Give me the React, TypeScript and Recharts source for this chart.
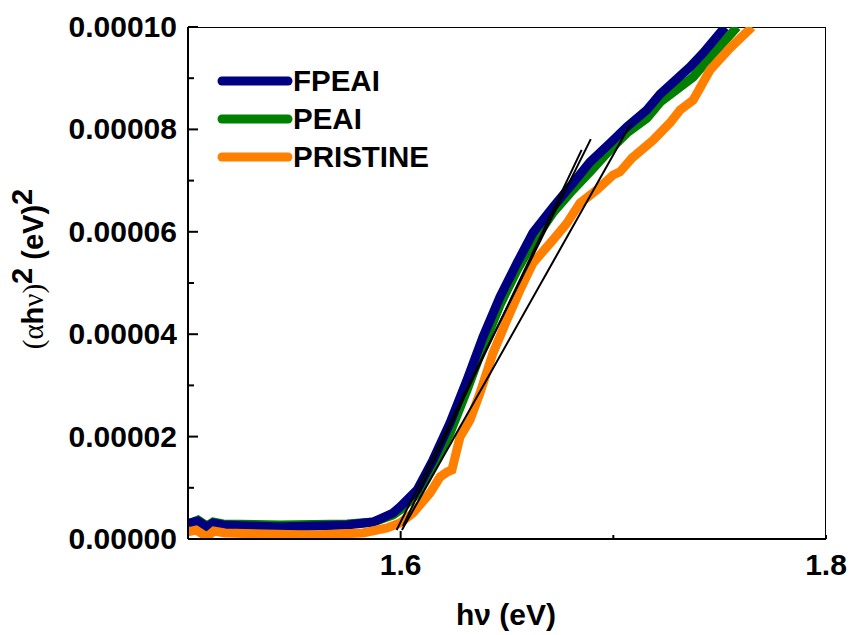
import React from 'react';
import { LineChart, Line, XAxis, YAxis, ReferenceArea } from 'recharts';

// ---- data ----
const fpeaiX = [1.5, 1.5009, 1.5047, 1.5089, 1.5118, 1.5165, 1.5433, 1.5748, 1.587, 1.5964, 1.5997, 1.6077, 1.6152, 1.6232, 1.6312, 1.6387, 1.6467, 1.6547, 1.6622, 1.6716, 1.681, 1.689, 1.6984, 1.7064, 1.7158, 1.722, 1.7361, 1.7422, 1.7525];
const fpeaiY = [2.73e-6, 3.13e-6, 3.52e-6, 2.34e-6, 3.13e-6, 2.73e-6, 2.34e-6, 2.73e-6, 3.32e-6, 5.08e-6, 6.25e-6, 9.57e-6, 1.543e-5, 2.266e-5, 3.105e-5, 3.945e-5, 4.727e-5, 5.39e-5, 5.98e-5, 6.48e-5, 6.95e-5, 7.36e-5, 7.73e-5, 8.05e-5, 8.38e-5, 8.69e-5, 9.22e-5, 9.49e-5, 1.0e-4];

const peaiX = [1.5, 1.5047, 1.5089, 1.5118, 1.5165, 1.5433, 1.5748, 1.587, 1.5964, 1.5997, 1.6077, 1.6152, 1.6232, 1.6312, 1.6387, 1.6467, 1.6547, 1.6622, 1.6716, 1.681, 1.689, 1.6984, 1.7064, 1.7158, 1.722, 1.7375, 1.7455, 1.7582];
const peaiY = [2.93e-6, 3.71e-6, 2.54e-6, 3.32e-6, 2.93e-6, 2.73e-6, 2.93e-6, 3.32e-6, 4.69e-6, 5.66e-6, 8.79e-6, 1.426e-5, 2.07e-5, 2.91e-5, 3.75e-5, 4.57e-5, 5.25e-5, 5.8e-5, 6.37e-5, 6.82e-5, 7.17e-5, 7.6e-5, 7.93e-5, 8.22e-5, 8.53e-5, 9.02e-5, 9.41e-5, 1.0e-4];

const pristineX = [1.5, 1.5038, 1.5089, 1.5122, 1.5174, 1.5588, 1.5823, 1.5936, 1.5997, 1.6058, 1.6138, 1.6185, 1.6218, 1.6241, 1.6279, 1.6326, 1.6373, 1.6434, 1.65, 1.6561, 1.6622, 1.6716, 1.6782, 1.6843, 1.6923, 1.6999, 1.7031, 1.7088, 1.7187, 1.7267, 1.7314, 1.7375, 1.7455, 1.7549, 1.7652];
const pristineY = [1.37e-6, 1.76e-6, 3.9e-7, 1.56e-6, 1.17e-6, 7.8e-7, 1.17e-6, 2.15e-6, 3.13e-6, 5.08e-6, 8.98e-6, 1.211e-5, 1.309e-5, 1.348e-5, 1.992e-5, 2.324e-5, 2.85e-5, 3.63e-5, 4.28e-5, 4.86e-5, 5.39e-5, 5.84e-5, 6.17e-5, 6.56e-5, 6.82e-5, 7.11e-5, 7.17e-5, 7.44e-5, 7.79e-5, 8.13e-5, 8.38e-5, 8.57e-5, 9.16e-5, 9.59e-5, 1.0e-4];

// linear fits (tangent lines)
const fitAX = [1.5981, 1.6894];
const fitAY = [1.76e-6, 7.81e-5];
const fitBX = [1.6011, 1.6851];
const fitBY = [2.54e-6, 7.6e-5];
const fitCX = [1.6006, 1.7082];
const fitCY = [1.76e-6, 8.11e-5];

const seriesNames = ['FPEAI', 'PEAI', 'PRISTINE'];
const seriesColors = ['#000080', '#008000', '#FF8000'];

const xTicks = [1.5, 1.6, 1.7, 1.8];
const xLabeled = [1.6, 1.8];
const yTicks = [0, 0.00001, 0.00002, 0.00003, 0.00004, 0.00005, 0.00006, 0.00007, 0.00008, 0.00009, 0.0001];
const yLabeled = [0, 0.00002, 0.00004, 0.00006, 0.00008, 0.0001];

const zip = (xs: number[], ys: number[]) => xs.map((x, i) => ({ x, y: ys[i] }));

const fpeai = zip(fpeaiX, fpeaiY);
const peai = zip(peaiX, peaiY);
const pristine = zip(pristineX, pristineY);
const fitA = zip(fitAX, fitAY);
const fitB = zip(fitBX, fitBY);
const fitC = zip(fitCX, fitCY);

const FONT = '"Liberation Sans", Arial, sans-serif';

const isIn = (v: number, arr: number[]) => arr.some((a) => Math.abs(a - v) < 1e-9);

const YTick = (props: any) => {
  const { x, y, payload } = props;
  const v = payload.value as number;
  const major = isIn(v, yLabeled);
  const axisX = x + 11;
  return (
    <g>
      <line x1={axisX} x2={axisX + (major ? 10 : 6)} y1={y} y2={y} stroke="#000" strokeWidth={2} />
      {major && (
        <text x={x} y={y + 10} textAnchor="end" fontFamily={FONT} fontWeight="bold" fontSize={30} fill="#000">
          {v.toFixed(5)}
        </text>
      )}
    </g>
  );
};

const XTick = (props: any) => {
  const { x, y, payload } = props;
  const v = payload.value as number;
  const major = Math.abs(v - 1.6) < 1e-9;
  const axisY = y - 16;
  return (
    <g>
      <line x1={x} x2={x} y1={axisY} y2={axisY - (major ? 8 : 4)} stroke="#000" strokeWidth={2} />
      {isIn(v, xLabeled) && (
        <text x={x} y={y + 20} textAnchor="middle" fontFamily={FONT} fontWeight="bold" fontSize={30} fill="#000">
          {v.toFixed(1)}
        </text>
      )}
    </g>
  );
};

const LegendBox = () => (
  <g>
    {seriesNames.map((n, i) => (
      <g key={n}>
        <line x1={222} x2={288} y1={81 + i * 38} y2={81 + i * 38} stroke={seriesColors[i]} strokeWidth={9} strokeLinecap="round" />
        <text x={293} y={91 + i * 38} fontFamily={FONT} fontWeight="bold" fontSize={29.5} fill="#000">
          {n}
        </text>
      </g>
    ))}
  </g>
);

const YLabel = () => (
  <text transform="rotate(-90, 43, 269)" x={43} y={269} textAnchor="middle" fontSize={29} fill="#000">
    <tspan fontFamily='"Liberation Serif", serif'>(α</tspan>
    <tspan fontFamily={FONT} fontWeight="bold">h</tspan>
    <tspan fontFamily='"Liberation Serif", serif'>ν)</tspan>
    <tspan fontFamily={FONT} fontWeight="bold" dy={-11}>2</tspan>
    <tspan fontFamily={FONT} fontWeight="bold" dy={11}> (eV)</tspan>
    <tspan fontFamily={FONT} fontWeight="bold" dy={-11}>2</tspan>
  </text>
);

export default function App() {
  return (
    <div style={{ position: 'absolute', left: 0, top: 0, width: 850, height: 635, background: '#fff' }}>
      <LineChart width={850} height={635} margin={{ top: 27, right: 24, left: 68, bottom: 36 }}>
        <XAxis
          type="number"
          dataKey="x"
          domain={[1.5, 1.8]}
          ticks={xTicks}
          interval={0}
          height={60}
          tickSize={0}
          tickMargin={16}
          tickLine={false}
          axisLine={{ stroke: '#000', strokeWidth: 2 }}
          tick={<XTick />}
          allowDataOverflow
        />
        <YAxis
          type="number"
          dataKey="y"
          domain={[0, 0.0001]}
          ticks={yTicks}
          interval={0}
          width={120}
          tickSize={0}
          tickMargin={11}
          tickLine={false}
          axisLine={{ stroke: '#000', strokeWidth: 2 }}
          tick={<YTick />}
          allowDataOverflow
        />
        <ReferenceArea x1={1.5} x2={1.8} y1={0} y2={0.0001} fill="none" stroke="#000" strokeWidth={2} ifOverflow="hidden" />
        <Line data={peai} dataKey="y" name={seriesNames[1]} stroke={seriesColors[1]} strokeWidth={9} dot={false} type="linear" isAnimationActive={false} />
        <Line data={fpeai} dataKey="y" name={seriesNames[0]} stroke={seriesColors[0]} strokeWidth={9} dot={false} type="linear" isAnimationActive={false} />
        <Line data={pristine} dataKey="y" name={seriesNames[2]} stroke={seriesColors[2]} strokeWidth={9} dot={false} type="linear" isAnimationActive={false} />
        <Line data={fitA} dataKey="y" stroke="#000" strokeWidth={2} dot={false} type="linear" legendType="none" isAnimationActive={false} />
        <Line data={fitB} dataKey="y" stroke="#000" strokeWidth={2} dot={false} type="linear" legendType="none" isAnimationActive={false} />
        <Line data={fitC} dataKey="y" stroke="#000" strokeWidth={2} dot={false} type="linear" legendType="none" isAnimationActive={false} />
        <LegendBox />
        <YLabel />
        <text x={506} y={625} textAnchor="middle" fontFamily={FONT} fontWeight="bold" fontSize={30} fill="#000">
          hν (eV)
        </text>
      </LineChart>
    </div>
  );
}
